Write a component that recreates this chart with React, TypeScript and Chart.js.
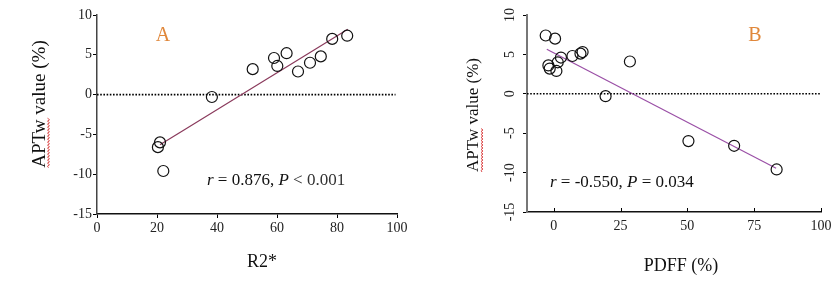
import React, { useEffect, useRef } from 'react';
import { Chart, registerables } from 'chart.js';

Chart.register(...registerables);

const SERIF = "'Liberation Serif', 'Times New Roman', serif";

// ---- Panel A data (R2* vs APTw) ----
const r2Values = [20.3, 21.0, 22.1, 38.3, 51.9, 59.0, 60.1, 63.2, 67.0, 71.0, 74.6, 78.4, 83.4];
const aptwA = [-6.6, -6.0, -9.6, -0.3, 3.2, 4.6, 3.6, 5.2, 2.9, 4.0, 4.8, 7.0, 7.4];
const fitAX = [21.0, 83.6];
const fitAY = [-6.3, 8.2];
const xTicksA = [0, 20, 40, 60, 80, 100];

// ---- Panel B data (PDFF vs APTw) ----
const pdffValues = [-3.0, 0.5, -2.0, -1.5, 1.0, 1.5, 2.7, 7.0, 10.0, 10.8, 28.5, 19.4, 50.4, 67.5, 83.4];
const aptwB = [7.4, 7.0, 3.6, 3.2, 2.9, 4.0, 4.6, 4.8, 5.1, 5.3, 4.1, -0.3, -6.0, -6.6, -9.6];
const fitBX = [-2.6, 83.2];
const fitBY = [5.65, -9.45];
const xTicksB = [0, 25, 50, 75, 100];

const yTicks = [-15, -10, -5, 0, 5, 10];
const yTitle = 'APTw value (%)';
const yTitleUnderlined = 'APTw';

type Part = [string, boolean, string];

interface Panel {
  xs: number[]; ys: number[]; fitX: number[]; fitY: number[];
  xMin: number; xMax: number; zeroFrom: number; zeroTo: number; xTicks: number[];
  yAxisWidth: number; padRight: number; xAxisHeight: number;
  fitColor: string; letter: string; letterX: number; letterY: number;
  stat: Part[]; statX: number; statY: number; statSize: number;
  yTitleX: number; yTitleY: number; yTitleSize: number; squiggleOffset: number;
  xTitle: string; xTitleX: number; xTitleY: number;
  rotatedY: boolean; yLabelX: number; inwardX: boolean; yBorderColor: string; yBorderWidth: number;
}

const panelA: Panel = {
  xs: r2Values, ys: aptwA, fitX: fitAX, fitY: fitAY,
  xMin: 0, xMax: 100, zeroFrom: 0, zeroTo: 99.5, xTicks: xTicksA,
  yAxisWidth: 97, padRight: 23, xAxisHeight: 85,
  fitColor: '#8a3a5c', letter: 'A', letterX: 163, letterY: 36,
  stat: [['r', true, '#111'], [' = 0.876, ', false, '#111'], ['P', true, '#111'], [' < 0.001', false, '#333']],
  statX: 207, statY: 181, statSize: 17,
  yTitleX: 40, yTitleY: 104, yTitleSize: 19, squiggleOffset: 8.5,
  xTitle: 'R2*', xTitleX: 262, xTitleY: 262,
  rotatedY: false, yLabelX: 0, inwardX: false, yBorderColor: '#444', yBorderWidth: 1.5,
};

const panelB: Panel = {
  xs: pdffValues, ys: aptwB, fitX: fitBX, fitY: fitBY,
  xMin: -10, xMax: 100, zeroFrom: -10, zeroTo: 100, xTicks: xTicksB,
  yAxisWidth: 107, padRight: 18, xAxisHeight: 87,
  fitColor: '#9a4fa6', letter: 'B', letterX: 335, letterY: 36,
  stat: [['r', true, '#111'], [' = -0.550, ', false, '#111'], ['P', true, '#111'], [' = 0.034', false, '#111']],
  statX: 130, statY: 183, statSize: 17,
  yTitleX: 54, yTitleY: 115, yTitleSize: 17, squiggleOffset: 8,
  xTitle: 'PDFF (%)', xTitleX: 261, xTitleY: 266,
  rotatedY: true, yLabelX: 90, inwardX: true, yBorderColor: '#777', yBorderWidth: 2,
};

function makePlugin(p: Panel) {
  return {
    id: 'decor' + p.letter,
    afterDraw(chart: any) {
      const ctx = chart.ctx as CanvasRenderingContext2D;
      const xs = chart.scales.x;
      const ys = chart.scales.y;
      ctx.save();
      if (p.rotatedY) {
        ctx.font = `14px ${SERIF}`;
        ctx.fillStyle = '#222';
        ctx.textAlign = 'center';
        ctx.textBaseline = 'middle';
        for (const v of yTicks) {
          const py = ys.getPixelForValue(v);
          ctx.save();
          ctx.translate(p.yLabelX, py);
          ctx.rotate(-Math.PI / 2);
          ctx.fillText(String(v), 0, 0);
          ctx.restore();
        }
      }
      if (p.inwardX) {
        ctx.strokeStyle = '#000';
        ctx.lineWidth = 1;
        for (const v of p.xTicks) {
          const px = Math.round(xs.getPixelForValue(v)) + 0.5;
          ctx.beginPath();
          ctx.moveTo(px, xs.top);
          ctx.lineTo(px, xs.top - 4);
          ctx.stroke();
        }
      }
      // panel letter
      ctx.font = `20px ${SERIF}`;
      ctx.fillStyle = '#e0873a';
      ctx.textAlign = 'center';
      ctx.textBaseline = 'middle';
      ctx.fillText(p.letter, p.letterX, p.letterY);
      // statistics text
      ctx.textAlign = 'left';
      let x = p.statX;
      for (const [t, italic, color] of p.stat) {
        ctx.font = `${italic ? 'italic ' : ''}${p.statSize}px ${SERIF}`;
        ctx.fillStyle = color;
        ctx.fillText(t, x, p.statY);
        x += ctx.measureText(t).width;
      }
      // x title
      ctx.font = `18px ${SERIF}`;
      ctx.fillStyle = '#111';
      ctx.textAlign = 'center';
      ctx.fillText(p.xTitle, p.xTitleX, p.xTitleY);
      // y title with wavy underline
      ctx.save();
      ctx.translate(p.yTitleX, p.yTitleY);
      ctx.rotate(-Math.PI / 2);
      ctx.font = `${p.yTitleSize}px ${SERIF}`;
      ctx.fillStyle = '#111';
      ctx.textAlign = 'center';
      ctx.fillText(yTitle, 0, 0);
      const w = ctx.measureText(yTitle).width;
      const wu = ctx.measureText(yTitleUnderlined).width;
      ctx.strokeStyle = '#d42020';
      ctx.lineWidth = 0.8;
      ctx.beginPath();
      let sx = -w / 2;
      let up = true;
      ctx.moveTo(sx, p.squiggleOffset);
      while (sx < -w / 2 + wu) {
        sx += 1.5;
        ctx.lineTo(sx, p.squiggleOffset + (up ? -1 : 1));
        up = !up;
      }
      ctx.stroke();
      ctx.restore();
      ctx.restore();
    },
  };
}

function buildConfig(p: Panel): any {
  return {
    type: 'scatter',
    data: {
      datasets: [
        {
          data: p.xs.map((v, i) => ({ x: v, y: p.ys[i] })),
          pointStyle: 'circle',
          pointRadius: 5.5,
          pointBorderWidth: 1.2,
          pointBorderColor: '#111',
          pointBackgroundColor: 'rgba(0,0,0,0)',
          showLine: false,
          order: 0,
        },
        {
          data: p.fitX.map((v, i) => ({ x: v, y: p.fitY[i] })),
          showLine: true,
          borderColor: p.fitColor,
          borderWidth: 1.2,
          pointRadius: 0,
          order: 1,
        },
        {
          data: [{ x: p.zeroFrom, y: 0 }, { x: p.zeroTo, y: 0 }],
          showLine: true,
          borderColor: '#000',
          borderWidth: 1.6,
          borderDash: [1.6, 1.6],
          pointRadius: 0,
          order: 2,
        },
      ],
    },
    options: {
      responsive: false,
      animation: false,
      devicePixelRatio: 1,
      layout: { padding: { left: 0, right: p.padRight, top: 15, bottom: 0 } },
      plugins: { legend: { display: false }, tooltip: { enabled: false } },
      scales: {
        x: {
          type: 'linear',
          min: p.xMin,
          max: p.xMax,
          afterBuildTicks: (s: any) => { s.ticks = p.xTicks.map((v) => ({ value: v })); },
          afterFit: (s: any) => { s.height = p.xAxisHeight; },
          grid: { display: !p.inwardX, drawOnChartArea: false, drawTicks: true, tickLength: 4, color: '#000', lineWidth: 1 },
          border: { display: true, color: '#111', width: 1.5 },
          ticks: { font: { family: SERIF, size: 14 }, color: '#222', padding: 2, maxRotation: 0, autoSkip: false },
        },
        y: {
          type: 'linear',
          min: -15,
          max: 10,
          afterBuildTicks: (s: any) => { s.ticks = yTicks.map((v) => ({ value: v })); },
          afterFit: (s: any) => { s.width = p.yAxisWidth; },
          grid: { display: true, drawOnChartArea: false, drawTicks: true, tickLength: 4, color: '#000', lineWidth: 1 },
          border: { display: true, color: p.yBorderColor, width: p.yBorderWidth },
          ticks: { display: !p.rotatedY, font: { family: SERIF, size: 14 }, color: '#222', padding: 1 },
        },
      },
    },
    plugins: [makePlugin(p)],
  };
}

function ChartPanel({ panel, left, width }: { panel: Panel; left: number; width: number }) {
  const ref = useRef<HTMLCanvasElement | null>(null);
  useEffect(() => {
    if (!ref.current) return;
    const chart = new Chart(ref.current, buildConfig(panel));
    return () => chart.destroy();
  }, [panel]);
  return (
    <div style={{ position: 'absolute', left, top: 0, width, height: 299 }}>
      <canvas ref={ref} width={width} height={299} style={{ width, height: 299, display: 'block' }} />
    </div>
  );
}

export default function App() {
  return (
    <div style={{ position: 'fixed', left: 0, top: 0, width: 839, height: 299, background: '#fff' }}>
      <ChartPanel panel={panelA} left={0} width={420} />
      <ChartPanel panel={panelB} left={420} width={419} />
    </div>
  );
}
